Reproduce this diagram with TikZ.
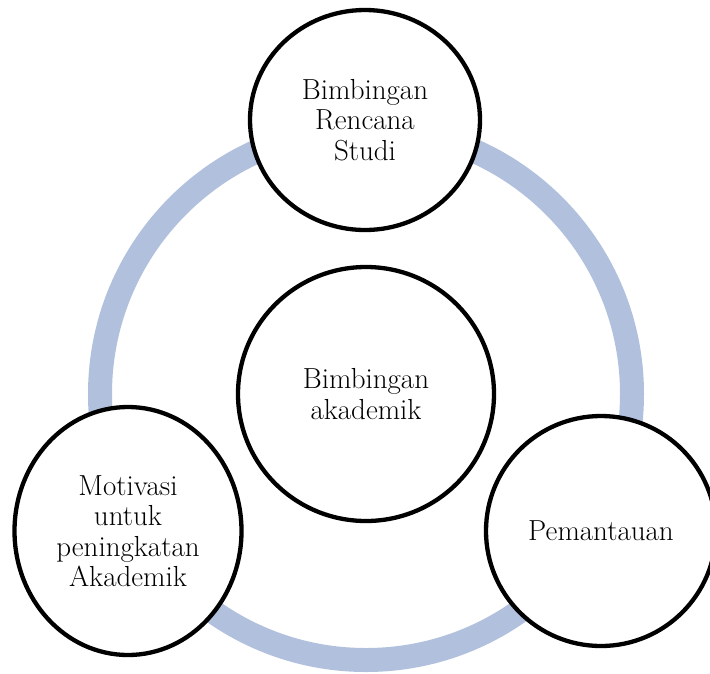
\documentclass[tikz,border=0pt]{standalone}
\usepackage{fontspec}
\setmainfont{Latin Modern Roman}
\usetikzlibrary{shapes.geometric}
\definecolor{ringblue}{RGB}{177,193,221}
\tikzset{
  bubble/.style={ellipse, draw=black, line width=4.3pt, fill=white, inner sep=0pt,
    align=center, font=\fontsize{29}{30.5}\selectfont},
}
\begin{document}
\begin{tikzpicture}[x=1pt,y=-1pt]
\useasboundingbox (0,0) rectangle (710,673);
\clip (0,0) rectangle (710,673);
\draw[ringblue, line width=24pt] (366,394) circle[radius=266];
\node[bubble, minimum width=230pt, minimum height=220pt] (top) at (365,120) {Bimbingan\\Rencana\\Studi};
\node[bubble, minimum width=256pt, minimum height=254pt] (mid) at (366,394) {Bimbingan\\akademik};
\node[bubble, minimum width=227pt, minimum height=248pt] (left) at (128,531) {Motivasi\\untuk\\peningkatan\\Akademik};
\node[bubble, minimum width=230pt, minimum height=230pt] (right) at (601,531) {Pemantauan};
\end{tikzpicture}
\end{document}
